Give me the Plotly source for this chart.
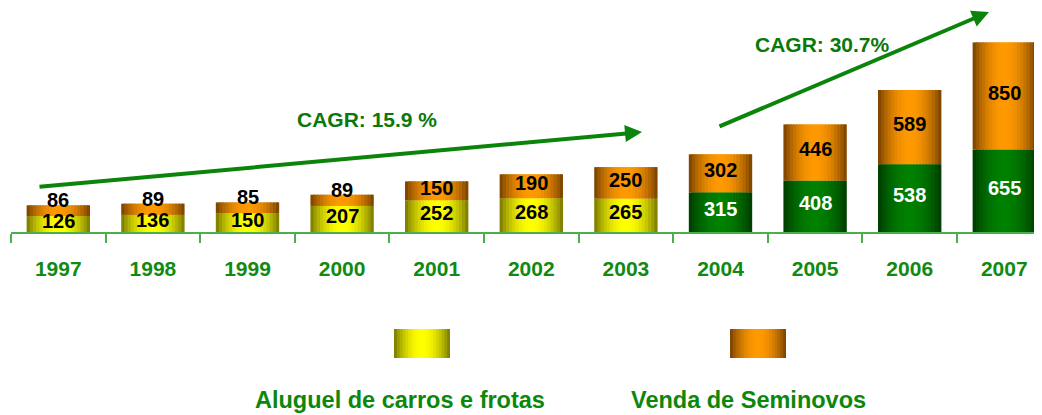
import plotly.graph_objects as go
import math

years = ["1997", "1998", "1999", "2000", "2001", "2002", "2003", "2004", "2005", "2006", "2007"]
aluguel = [126, 136, 150, 207, 252, 268, 265, 315, 408, 538, 655]
seminovos = [86, 89, 85, 89, 150, 190, 250, 302, 446, 589, 850]
green_from = 7  # index of first year drawn in green

FONT = "Liberation Sans, Arial, sans-serif"
OFF = 8                      # page body margin offset
W, H = 1042 - OFF, 415 - OFF
AXIS_Y = 232                 # page pixel of the baseline
LEFT_X = 11                  # page pixel of the left plot edge
ML = LEFT_X - OFF
PLOT_BOTTOM = AXIS_Y - OFF
MB = H - PLOT_BOTTOM
PLOT_W = W - ML
PLOT_H = PLOT_BOTTOM
PX_PER_UNIT = 0.126
CAT_PX = 94.6
BAR_W = 0.67
N = 20

YELLOW = ((0x70, 0x70, 0x00), (0xff, 0xff, 0x00))
ORANGE = ((0x70, 0x3c, 0x00), (0xff, 0x99, 0x00))
GREEN = ((0x00, 0x36, 0x00), (0x00, 0x80, 0x00))


def grad(pair, t):
    d, b = pair
    f = math.sin(math.pi * t) ** 0.8
    return "rgb(%d,%d,%d)" % tuple(round(d[k] + (b[k] - d[k]) * f) for k in range(3))


fig = go.Figure()
sw = BAR_W / N
for i in range(N):
    t = (i + 0.5) / N
    wid = sw * (1.6 if i < N - 1 else 1.0)
    cols_a = [grad(GREEN if j >= green_from else YELLOW, t) for j in range(len(years))]
    fig.add_trace(go.Bar(x=years, y=aluguel, base=0, width=wid,
                         offset=-BAR_W / 2 + i * sw,
                         marker=dict(color=cols_a, line=dict(width=0)),
                         showlegend=False, hoverinfo="skip"))
    fig.add_trace(go.Bar(x=years, y=seminovos, base=aluguel, width=wid,
                         offset=-BAR_W / 2 + i * sw,
                         marker=dict(color=grad(ORANGE, t), line=dict(width=0)),
                         showlegend=False, hoverinfo="skip"))

ann = []
for j, yr in enumerate(years):
    a, s = aluguel[j], seminovos[j]
    ann.append(dict(x=j, y=a / 2, xref="x", yref="y", yshift=3, showarrow=False,
                    xanchor="center", yanchor="middle",
                    text="<b>%d</b>" % a,
                    font=dict(family=FONT, size=20, color="white" if j >= green_from else "black")))
    if s * PX_PER_UNIT < 15:
        sy, ys = a + s, 5
    else:
        sy, ys = a + s / 2, 3
    ann.append(dict(x=j, y=sy, xref="x", yref="y", yshift=ys, showarrow=False,
                    xanchor="center", yanchor="middle",
                    text="<b>%d</b>" % s, font=dict(family=FONT, size=20, color="black")))


def px(xp):
    return (xp - LEFT_X) / PLOT_W


def py(yp):
    return (AXIS_Y - yp) / PLOT_H


ARROW = "#0b840b"
TXT = "#0b780b"
# arrows (tip, tail in page pixels)
for tip, tail in [((642, 132), (38, 187)), ((989, 12), (718, 127))]:
    ann.append(dict(x=px(tip[0]), y=py(tip[1]), xref="paper", yref="paper",
                    ax=tail[0] - tip[0], ay=tail[1] - tip[1], axref="pixel", ayref="pixel",
                    text="", showarrow=True, arrowhead=2, arrowsize=0.85, arrowwidth=4,
                    arrowcolor=ARROW, standoff=0, startstandoff=0))
ann.append(dict(x=px(367), y=py(119), xref="paper", yref="paper", showarrow=False,
                xanchor="center", yanchor="middle",
                text="<b>CAGR: 15.9 %</b>", font=dict(family=FONT, size=21, color=TXT)))
ann.append(dict(x=px(822), y=py(45), xref="paper", yref="paper", showarrow=False,
                xanchor="center", yanchor="middle",
                text="<b>CAGR: 30.7%</b>", font=dict(family=FONT, size=21, color=TXT)))

# legend
LEG_GREEN = "#0c870c"
ann.append(dict(x=px(400), y=py(400), xref="paper", yref="paper", showarrow=False,
                xanchor="center", yanchor="middle",
                text="<b>Aluguel de carros e frotas</b>", font=dict(family=FONT, size=23.5, color=LEG_GREEN)))
ann.append(dict(x=px(748), y=py(400), xref="paper", yref="paper", showarrow=False,
                xanchor="center", yanchor="middle",
                text="<b>Venda de Seminovos</b>", font=dict(family=FONT, size=23.5, color=LEG_GREEN)))

shapes = []
for (x0, x1), pair in [((394, 450), YELLOW), ((730, 786), ORANGE)]:
    step = (x1 - x0) / N
    for i in range(N):
        t = (i + 0.5) / N
        shapes.append(dict(type="rect", xref="paper", yref="paper",
                           x0=px(x0 + i * step), x1=px(x0 + (i + 1) * step + (1.5 if i < N - 1 else 0)),
                           y0=py(358), y1=py(329), fillcolor=grad(pair, t), line=dict(width=0)))

fig.update_layout(
    template="none",
    width=W, height=H,
    margin=dict(l=ML, r=0, t=0, b=MB, autoexpand=False),
    paper_bgcolor="white", plot_bgcolor="white",
    barmode="overlay",
    showlegend=False,
    annotations=ann,
    shapes=shapes,
    xaxis=dict(type="category", categoryorder="array", categoryarray=years,
               range=[-0.5, -0.5 + PLOT_W / CAT_PX], automargin=False,
               tickson="boundaries", ticks="outside", ticklen=9, tickwidth=1.5,
               tickcolor="#4caf4c", showline=True, linecolor="#4caf4c", linewidth=1.5,
               showgrid=False, zeroline=False, ticklabelstandoff=17,
               tickfont=dict(family=FONT, size=21, color="#118a11", weight="bold")),
    yaxis=dict(range=[0, PLOT_H / PX_PER_UNIT], visible=False, showgrid=False, zeroline=False,
               automargin=False),
)

fig.write_html("out.html")
